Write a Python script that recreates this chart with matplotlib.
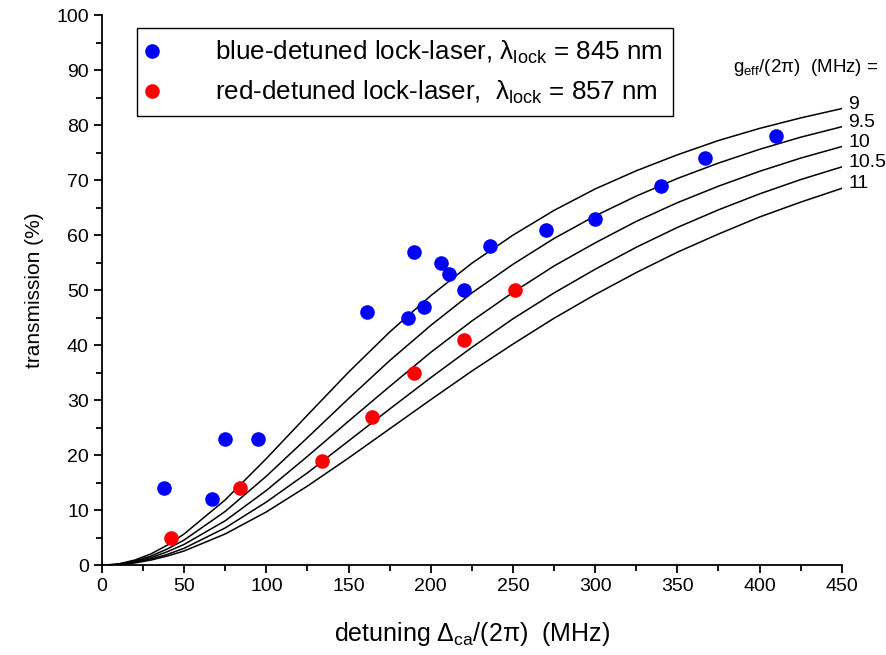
import matplotlib
matplotlib.use("Agg")
import matplotlib.pyplot as plt
from matplotlib.lines import Line2D
from matplotlib.ticker import MultipleLocator

plt.rcParams['font.family'] = ['Liberation Sans', 'DejaVu Sans']
plt.rcParams['mathtext.fontset'] = 'custom'
plt.rcParams['mathtext.rm'] = 'Liberation Sans'
plt.rcParams['mathtext.it'] = 'Liberation Sans:italic'

# measured points
blue_x = [38, 67, 75, 95, 161, 186, 190, 196, 206, 211, 220, 236, 270, 300, 340, 367, 410]
blue_y = [14, 12, 23, 23, 46, 45, 57, 47, 55, 53, 50, 58, 61, 63, 69, 74, 78]
red_x = [42, 84, 134, 164, 190, 220, 251]
red_y = [5, 14, 19, 27, 35, 41, 50]

# model curves
curve_x = [0, 10, 20, 30, 40, 50, 75, 100, 125, 150, 175, 200, 225, 250,
           275, 300, 325, 350, 375, 400, 425, 450]
g_labels = ['9', '9.5', '10', '10.5', '11']
curve_g9 = [0, 0.24, 0.95, 2.1, 3.7, 5.7, 11.9, 19.4, 27.3, 35.1, 42.4, 49.0, 54.9, 60.0,
            64.5, 68.4, 71.7, 74.6, 77.2, 79.4, 81.3, 83.0]
curve_g95 = [0, 0.19, 0.77, 1.7, 3.0, 4.6, 9.8, 16.2, 23.2, 30.3, 37.2, 43.6, 49.5, 54.7,
             59.4, 63.5, 67.1, 70.3, 73.1, 75.6, 77.8, 79.7]
curve_g10 = [0, 0.16, 0.63, 1.4, 2.5, 3.8, 8.1, 13.6, 19.8, 26.2, 32.5, 38.7, 44.4, 49.6,
             54.4, 58.6, 62.5, 65.9, 68.9, 71.6, 74.0, 76.1]
curve_g105 = [0, 0.13, 0.52, 1.15, 2.0, 3.1, 6.8, 11.5, 16.8, 22.6, 28.4, 34.1, 39.6, 44.8,
              49.5, 53.8, 57.8, 61.4, 64.6, 67.5, 70.1, 72.4]
curve_g11 = [0, 0.11, 0.43, 0.96, 1.7, 2.6, 5.7, 9.7, 14.4, 19.5, 24.8, 30.1, 35.3, 40.2,
             44.9, 49.2, 53.2, 56.9, 60.2, 63.3, 66.0, 68.5]
curves = [curve_g9, curve_g95, curve_g10, curve_g105, curve_g11]

fig = plt.figure(figsize=(8.87, 6.55), dpi=100)
ax = fig.add_axes([0.115, 0.137, 0.834, 0.840])

for lab, cy in zip(g_labels, curves):
    ax.plot(curve_x, cy, color='black', lw=1.1, zorder=2)
    ax.text(curve_x[-1] + 4, cy[-1] + 0.8, lab, fontsize=14, va='center', ha='left',
            clip_on=False)

ax.plot(blue_x, blue_y, 'o', color='#0000ff', ms=10.5, mec='none', zorder=3)
ax.plot(red_x, red_y, 'o', color='#ff0000', ms=10.5, mec='none', zorder=3)

ax.text(1.05, 0.905, r'g$_{\mathrm{eff}}$/(2π)  (MHz) =', transform=ax.transAxes,
        fontsize=13.5, ha='right', va='center')

ax.set_xlim(0, 450)
ax.set_ylim(0, 100)
ax.xaxis.set_major_locator(MultipleLocator(50))
ax.xaxis.set_minor_locator(MultipleLocator(25))
ax.yaxis.set_major_locator(MultipleLocator(10))
ax.yaxis.set_minor_locator(MultipleLocator(5))
ax.spines['top'].set_visible(False)
ax.spines['right'].set_visible(False)
for s in ['left', 'bottom']:
    ax.spines[s].set_linewidth(1.3)
ax.tick_params(which='major', direction='out', length=6, width=1.3, labelsize=14)
ax.tick_params(which='minor', direction='out', length=4, width=1.3)

ax.set_xlabel(r'detuning Δ$_{\mathrm{ca}}$/(2π)  (MHz)', fontsize=18, labelpad=18)
ax.set_ylabel('transmission (%)', fontsize=15, labelpad=9)

handles = [
    Line2D([], [], ls='none', marker='o', color='#0000ff', ms=10.5, mec='none'),
    Line2D([], [], ls='none', marker='o', color='#ff0000', ms=10.5, mec='none'),
]
labels = [r'blue-detuned lock-laser, λ$_{\mathrm{lock}}$ = 845 nm',
          r'red-detuned lock-laser,  λ$_{\mathrm{lock}}$ = 857 nm']
leg = ax.legend(handles, labels, loc='upper left', bbox_to_anchor=(0.047, 0.976),
                borderaxespad=0, fontsize=18.7, fancybox=False, edgecolor='black',
                framealpha=1, handlelength=0.4, handletextpad=2.2, borderpad=0.4,
                labelspacing=0.5)
leg.get_frame().set_linewidth(1.0)

fig.savefig('out.png', dpi=100)
